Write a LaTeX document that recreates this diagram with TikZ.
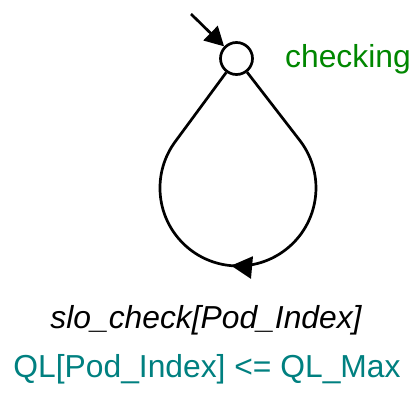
\documentclass[tikz,border=0pt]{standalone}
\usepackage{fontspec}
\setmainfont{Liberation Sans}
\usetikzlibrary{arrows.meta,decorations.markings}
\definecolor{locgreen}{RGB}{0,135,0}
\definecolor{guardteal}{RGB}{0,128,128}
\begin{document}
\begin{tikzpicture}[x=1pt,y=1pt,
  edge/.style={line width=2.7pt},
  location/.style={circle,draw,line width=2.7pt,minimum size=32pt,inner sep=0pt},
  lbl/.style={font=\fontsize{31.8}{32}\selectfont,inner sep=0pt}]
\useasboundingbox (0,0) rectangle (414,397);
% the single location and its name
\node[location] (a) at (236.5,338.5) {};
\node[lbl,text=locgreen,anchor=base west] (name) at (285,329) {checking};
% initial marker
\coordinate (init) at (191,383);
\draw[edge,-{Triangle[length=19pt,width=20pt]}] (init) -- (a);
% self loop: two tangents and a round bottom, arrow half-way
\coordinate (tr) at (300.1,256.2);
\draw[edge,decoration={markings,mark=at position 0.515 with {\arrow{Triangle[length=21pt,width=22pt]}}},postaction={decorate}]
  (a) -- (tr) arc[start angle=37.2,end angle=-217.2,radius=78] -- (a);
% synchronisation and guard
\node[lbl,anchor=base] (sync) at (206,69) {\itshape slo\_check[Pod\_Index]};
\node[lbl,text=guardteal,anchor=base] (guard) at (207,20) {QL[Pod\_Index] <= QL\_Max};
\end{tikzpicture}
\end{document}
